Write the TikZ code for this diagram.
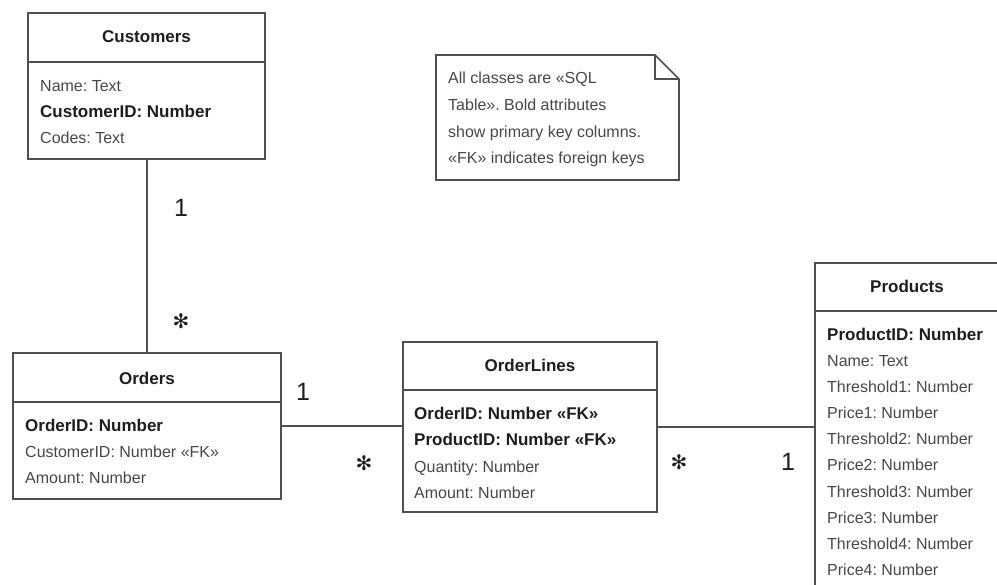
\documentclass[tikz,border=0pt]{standalone}
\usepackage{fontspec}
\setmainfont{Liberation Sans}
\newfontfamily\symfont{DejaVu Sans}
\definecolor{linec}{HTML}{505050}
\definecolor{regc}{HTML}{484848}
\definecolor{boldc}{HTML}{1E1E1E}
\newcommand\pkey[1]{{\fontsize{17}{26}\selectfont\bfseries\color{boldc}#1}}
\begin{document}
\frenchspacing
\begin{tikzpicture}[x=1pt,y=-1pt,
  tbl/.style={draw=linec, line width=1.6pt, fill=white, inner sep=0},
  hdr/.style={anchor=base, inner sep=0, font=\fontsize{17}{20}\selectfont\bfseries, text=boldc},
  row/.style={anchor=base west, inner sep=0, font=\fontsize{16}{20}\selectfont, text=regc},
  sep/.style={draw=linec, line width=1.6pt},
  conn/.style={draw=linec, line width=1.6pt},
  mone/.style={anchor=center, inner sep=0, font=\fontsize{25}{28}\selectfont, text=boldc},
  mstar/.style={anchor=center, inner sep=0, font=\symfont\fontsize{20}{22}\selectfont, text=boldc}]
\useasboundingbox[fill=white] (0,0) rectangle (997,585);
\clip (0,0) rectangle (997,585);

% Customers
\node[tbl, minimum width=237pt, minimum height=146pt] (cust) at (146.5,86) {};
\draw[sep] (cust.west |- 0,62) -- (cust.east |- 0,62);
\node[hdr] (custt) at (146.5,43) {Customers};
\node[row] (c1) at (40,92) {Name: Text};
\node[row] (c2) at (40,118) {\pkey{CustomerID: Number}};
\node[row] (c3) at (40,144) {Codes: Text};

% Orders
\node[tbl, minimum width=268pt, minimum height=146pt] (ord) at (147,426) {};
\draw[sep] (ord.west |- 0,402) -- (ord.east |- 0,402);
\node[hdr] (ordt) at (147,385) {Orders};
\node[row] (o1) at (25,432) {\pkey{OrderID: Number}};
\node[row] (o2) at (25,458) {CustomerID: Number «FK»};
\node[row] (o3) at (25,484) {Amount: Number};

% OrderLines
\node[tbl, minimum width=254pt, minimum height=170pt] (ordl) at (530,427) {};
\draw[sep] (ordl.west |- 0,390) -- (ordl.east |- 0,390);
\node[hdr] (ordlt) at (530,372) {OrderLines};
\node[row] (l1) at (414,420) {\pkey{OrderID: Number «FK»}};
\node[row] (l2) at (414,446) {\pkey{ProductID: Number «FK»}};
\node[row] (l3) at (414,472) {Quantity: Number};
\node[row] (l4) at (414,498) {Amount: Number};

% Products (extends past the right and bottom edges)
\node[tbl, minimum width=205pt, minimum height=347pt] (prod) at (917.5,436.5) {};
\draw[sep] (prod.west |- 0,311) -- (prod.east |- 0,311);
\node[hdr] (prodt) at (907,293) {Products};
\node[row] (p1) at (827,341) {\pkey{ProductID: Number}};
\node[row] (p2) at (827,367) {Name: Text};
\node[row] (p3) at (827,393) {Threshold1: Number};
\node[row] (p4) at (827,419) {Price1: Number};
\node[row] (p5) at (827,445) {Threshold2: Number};
\node[row] (p6) at (827,471) {Price2: Number};
\node[row] (p7) at (827,497) {Threshold3: Number};
\node[row] (p8) at (827,523) {Price3: Number};
\node[row] (p9) at (827,549) {Threshold4: Number};
\node[row] (p10) at (827,575) {Price4: Number};

% Note
\draw[sep, fill=white] (436,55) -- (655,55) -- (679,79) -- (679,180) -- (436,180) -- cycle;
\draw[sep] (655,55) -- (655,79) -- (679,79);
\node[row] (n1) at (448,84) {All classes are «SQL};
\node[row] (n2) at (448,111) {Table». Bold attributes};
\node[row] (n3) at (448,138) {show primary key columns.};
\node[row] (n4) at (448,164) {«FK» indicates foreign keys};

% Connectors
\draw[conn] (cust.south -| 147,0) -- (ord.north -| 147,0);
\draw[conn] (ord.east) -- (ordl.west |- ord.east);
\draw[conn] (ordl.east) -- (prod.west |- ordl.east);

% Multiplicities
\node[mone] (m1) at (181,208) {1};
\node[mstar] (m2) at (181,321) {✻};
\node[mone] (m3) at (303,392) {1};
\node[mstar] (m4) at (364,463) {✻};
\node[mstar] (m5) at (679,462) {✻};
\node[mone] (m6) at (788,462) {1};
\end{tikzpicture}
\end{document}
